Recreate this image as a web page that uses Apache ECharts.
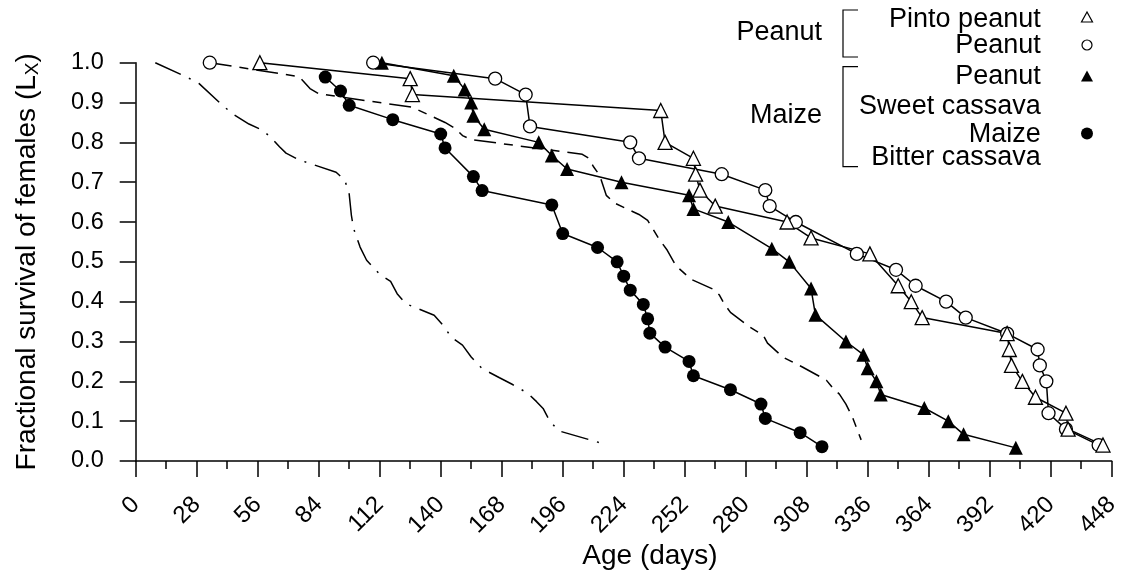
<!DOCTYPE html>
<html><head><meta charset="utf-8">
<script src="https://cdn.jsdelivr.net/npm/echarts@6/dist/echarts.min.js"></script>
<style>html,body{margin:0;padding:0;background:#fff}#c{width:1128px;height:577px}</style>
</head><body><div id="c"></div>
<script>
// Host: Peanut
const pintoDays = [57,126,127,241,243,256,257,259,266,299,310,337,350,356,361,400,401,402,407,413,427,428,444];
const pintoLx   = [1.0,0.96,0.92,0.88,0.80,0.76,0.72,0.68,0.64,0.60,0.56,0.52,0.44,0.40,0.36,0.32,0.28,0.24,0.20,0.16,0.12,0.08,0.04];
const peanutFirstDays = [34];
const peanutFirstLx   = [1.0];
const peanutDays = [109,165,179,181,227,231,269,289,291,303,331,349,358,372,381,400,414,415,418,419,427,442];
const peanutLx   = [1.0,0.96,0.92,0.84,0.80,0.76,0.72,0.68,0.64,0.60,0.52,0.48,0.44,0.40,0.36,0.32,0.28,0.24,0.20,0.12,0.08,0.04];
// Host: Maize
const mPeanutDays = [113,146,151,154,155,160,185,191,198,223,254,256,272,292,300,310,312,326,334,336,340,342,362,373,380,404];
const mPeanutLx   = [1.0,0.967,0.933,0.9,0.867,0.833,0.8,0.767,0.733,0.7,0.667,0.633,0.6,0.533,0.5,0.433,0.367,0.3,0.267,0.233,0.2,0.167,0.133,0.1,0.067,0.033];
const sweetDays = [34,75,80,84,127,142,147,150,154,205,208,210,213,216,220,231,235,240,244,248,255,266,268,270,273,282,288,290,297,306,317,320,323,326,329,333];
const sweetLx   = [1.0,0.965,0.935,0.922,0.888,0.85,0.834,0.817,0.807,0.77,0.76,0.74,0.717,0.667,0.647,0.619,0.604,0.559,0.529,0.49,0.456,0.429,0.416,0.396,0.373,0.336,0.316,0.296,0.261,0.236,0.203,0.183,0.168,0.143,0.11,0.053];
const maizeDays = [87,94,98,118,140,142,155,159,191,196,212,221,224,227,233,235,236,243,254,256,273,287,289,305,315];
const maizeLx   = [0.964,0.929,0.893,0.857,0.821,0.786,0.714,0.679,0.643,0.571,0.536,0.5,0.464,0.429,0.393,0.357,0.321,0.286,0.25,0.214,0.179,0.143,0.107,0.071,0.036];
const bitterDays = [9,23,29,40,45,52,58,62,66,69,75,92,96,98,99,100,103,106,112,117,120,124,137,141,145,150,154,159,167,173,180,184,187,190,194,213];
const bitterLx   = [1.0,0.965,0.948,0.892,0.87,0.846,0.831,0.813,0.789,0.773,0.756,0.725,0.705,0.67,0.617,0.584,0.537,0.504,0.469,0.451,0.42,0.395,0.366,0.341,0.31,0.291,0.261,0.232,0.209,0.192,0.17,0.149,0.132,0.101,0.076,0.046];

const FONT = 'Liberation Sans, Arial, sans-serif';
const zip = (a, b) => a.map((v, i) => [v, b[i]]);
const BLK = '#000';

function lineSeries(name, days, lx, symbol, filled, dash) {
  return {
    name, type: 'line', data: zip(days, lx),
    symbol: symbol || 'none', symbolSize: symbol === 'triangle' ? 14 : 13,
    showSymbol: !!symbol,
    lineStyle: { color: BLK, width: 1.5, type: dash || 'solid' },
    itemStyle: { color: filled ? BLK : '#fff', borderColor: BLK, borderWidth: filled ? 0 : 1.3 },
    emphasis: { disabled: true }, animation: false
  };
}

const chart = echarts.init(document.getElementById('c'), null, { renderer: 'canvas' });

const LX = 1040.7;   // right edge of legend labels
const MX = 1087;     // legend marker column
const g = [];
function txt(text, x, y, align) {
  g.push({ type: 'text', x, y, style: { text, fill: BLK, font: '27px ' + FONT, textAlign: align || 'right', textVerticalAlign: 'middle' } });
}
txt('Pinto peanut', LX, 20); txt('Peanut', LX, 46);
txt('Peanut', LX, 77); txt('Sweet cassava', LX, 107); txt('Maize', LX, 135); txt('Bitter cassava', LX, 158);
txt('Peanut', 822, 33); txt('Maize', 822, 116);
function bracket(y1, y2) {
  g.push({ type: 'polyline', shape: { points: [[858, y1], [843, y1], [843, y2], [858, y2]] }, style: { stroke: BLK, lineWidth: 1.2, fill: null } });
}
bracket(10, 57); bracket(66.7, 166.7);
g.push({ type: 'polygon', shape: { points: [[MX, 12], [MX - 5.5, 22], [MX + 5.5, 22]] }, style: { fill: '#fff', stroke: BLK, lineWidth: 1.2 } });
g.push({ type: 'circle', shape: { cx: MX, cy: 45, r: 5 }, style: { fill: '#fff', stroke: BLK, lineWidth: 1.2 } });
g.push({ type: 'polygon', shape: { points: [[MX, 70.5], [MX - 6, 81.5], [MX + 6, 81.5]] }, style: { fill: BLK } });
g.push({ type: 'circle', shape: { cx: MX, cy: 133.5, r: 6 }, style: { fill: BLK } });
g.push({ type: 'text', x: 650, y: 556, style: { text: 'Age (days)', fill: BLK, font: '28px ' + FONT, textAlign: 'center', textVerticalAlign: 'middle' } });

const axisCommon = {
  axisLine: { show: true, onZero: false, lineStyle: { color: BLK, width: 1.5 } },
  axisTick: { show: true, length: 16, lineStyle: { color: BLK, width: 1.5 } },
  splitLine: { show: false }
};

const peanutOpen = lineSeries('Peanut', peanutFirstDays, peanutFirstLx, 'circle', false);

chart.setOption({
  animation: false,
  grid: { left: 135.7, right: 16.3, top: 62.7, bottom: 116, outerBoundsMode: 'none', containLabel: false },
  xAxis: Object.assign({
    type: 'value', min: 0, max: 448, interval: 28,
    minorTick: { show: true, splitNumber: 2, length: 8, lineStyle: { color: BLK, width: 1.5 } },
    minorSplitLine: { show: false },
    axisLabel: { rotate: 45, margin: 40, fontSize: 24, color: BLK, fontFamily: FONT, hideOverlap: false, showMinLabel: true, showMaxLabel: true }
  }, axisCommon),
  yAxis: Object.assign({
    type: 'value', min: 0, max: 1, interval: 0.1,
    axisLabel: { margin: 32, fontSize: 23.5, color: BLK, fontFamily: FONT, formatter: v => v.toFixed(1), showMinLabel: true, showMaxLabel: true },
    name: 'Fractional survival of females (L{sub|X})', nameLocation: 'middle', nameRotate: 90, nameGap: 93,
    nameTextStyle: { fontSize: 28, color: BLK, fontFamily: FONT, rich: { sub: { fontSize: 19, fontFamily: FONT, color: BLK, verticalAlign: 'bottom', padding: [12, 0, 0, 0] } } }
  }, axisCommon),
  series: [
    lineSeries('Bitter cassava', bitterDays, bitterLx, null, false, [28, 9, 2, 9]),
    lineSeries('Sweet cassava', sweetDays, sweetLx, null, false, [22, 8, 9, 8]),
    lineSeries('Maize', maizeDays, maizeLx, 'circle', true),
    lineSeries('Peanut (maize)', mPeanutDays, mPeanutLx, 'triangle', true),
    peanutOpen,
    lineSeries('Peanut', peanutDays, peanutLx, 'circle', false),
    lineSeries('Pinto peanut', pintoDays, pintoLx, 'triangle', false)
  ],
  graphic: g
});
</script></body></html>
